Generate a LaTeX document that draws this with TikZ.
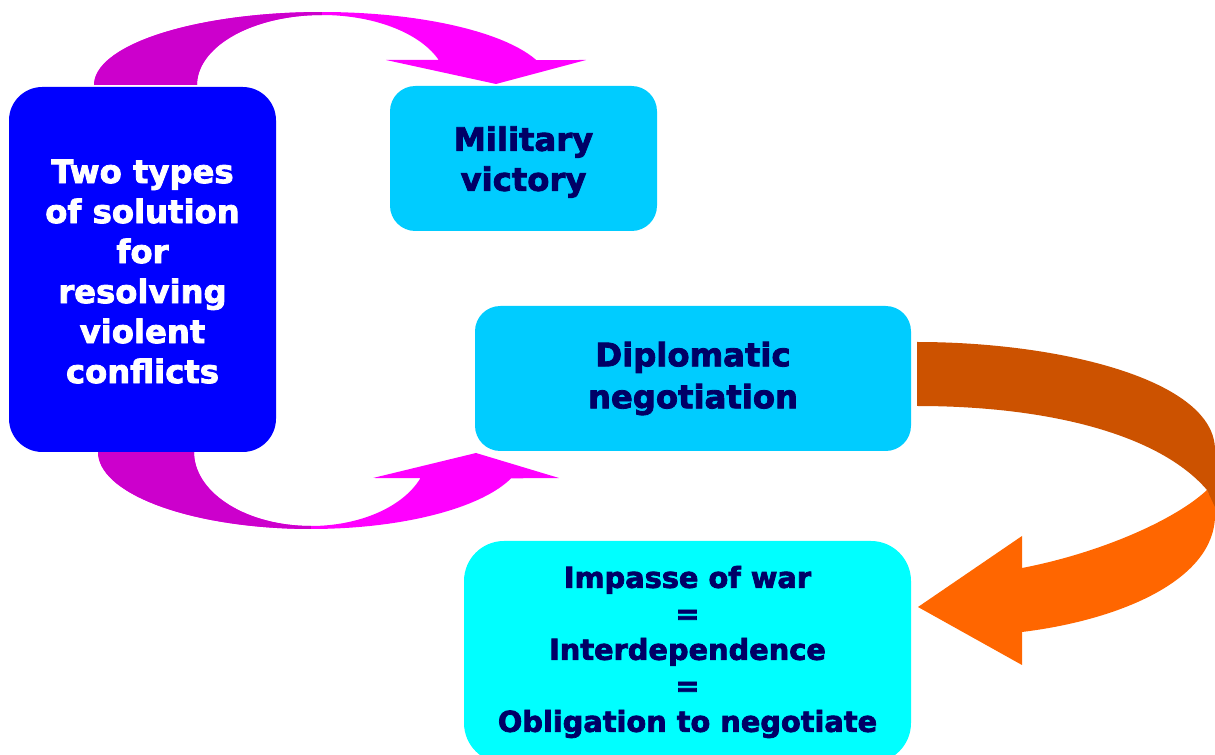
\documentclass[tikz,border=0pt]{standalone}
\usepackage{fontspec}
\setmainfont{DejaVu Sans}[BoldFeatures={FakeBold=2.5}]
\definecolor{boxblue}{HTML}{0000FF}
\definecolor{boxsky}{HTML}{00CCFF}
\definecolor{boxcyan}{HTML}{00FFFF}
\definecolor{navy}{HTML}{000066}
\definecolor{magdark}{HTML}{CC00CC}
\definecolor{maglight}{HTML}{FF00FF}
\definecolor{orgdark}{HTML}{CC5200}
\definecolor{orglight}{HTML}{FF6600}
\tikzset{
  box/.style={rounded corners=19pt, inner sep=0pt, align=center, font=\bfseries\fontsize{24.2}{30}\selectfont},
  smalltext/.style={font=\bfseries\fontsize{21.6}{27}\selectfont}
}
\begin{document}
\begin{tikzpicture}[x=0.75pt,y=-0.75pt]
\useasboundingbox (0,0) rectangle (1215,755);
% top curved arrow
\fill[maglight, path picture={\fill[magdark] (0,0) rectangle (322,100);}]
  (95,85) -- plot[domain=180:340,samples=60] ({322+228*cos(\x)},{85+73*sin(\x)})
  -- (586,60) -- (496,84) -- (386,60)
  -- plot[domain=339:180,samples=60] ({322+125*cos(\x)},{85+70*sin(\x)}) -- cycle;
% bottom curved arrow
\fill[maglight, path picture={\fill[magdark] (0,440) rectangle (311,540);}]
  (98,452) -- plot[domain=180:20,samples=60] ({311+213*cos(\x)},{452+77*sin(\x)})
  -- (559,478) -- (476,453) -- (373,478)
  -- plot[domain=20.6:180,samples=60] ({311+117*cos(\x)},{452+74*sin(\x)}) -- cycle;
% orange arrow, lower (front) part
\fill[orglight]
  (1207,490) -- (1215,505) -- (1215,515)
  .. controls (1215,580) and (1120,620) .. (1022,632)
  -- (1022,665) -- (918,607) -- (1022,536) -- (1022,568)
  .. controls (1100,553) and (1175,520) .. (1207,490) -- cycle;
% orange arrow, upper (back) part
\fill[orgdark]
  (917,342) .. controls (1060,342) and (1215,380) .. (1215,450)
  -- (1215,507) -- (1207,490)
  .. controls (1160,435) and (1050,406) .. (917,406) -- cycle;
% boxes
\node[box, fill=boxblue, text=white, rounded corners=25pt, minimum width=200.25pt, minimum height=273.75pt] (sol) at (142.5,269.5)
  {\rule{0pt}{20.7pt}Two types\\of solution\\for\\resolving\\violent\\conflicts};
\node[box, fill=boxsky, text=navy, minimum width=200.25pt, minimum height=108.75pt] (mil) at (523.5,158.5)
  {\rule{0pt}{23.7pt}Military\\victory};
\node[box, fill=boxsky, text=navy, minimum width=327pt, minimum height=108.75pt] (dip) at (693,378.5)
  {Diplomatic\\[1.5pt]negotiation};
\node[box, smalltext, fill=boxcyan, text=navy, rounded corners=30pt, minimum width=335.25pt, minimum height=166.5pt] (imp) at (687.5,652)
  {Impasse of war\\=\\Interdependence\\=\\Obligation to negotiate};
\end{tikzpicture}
\end{document}
